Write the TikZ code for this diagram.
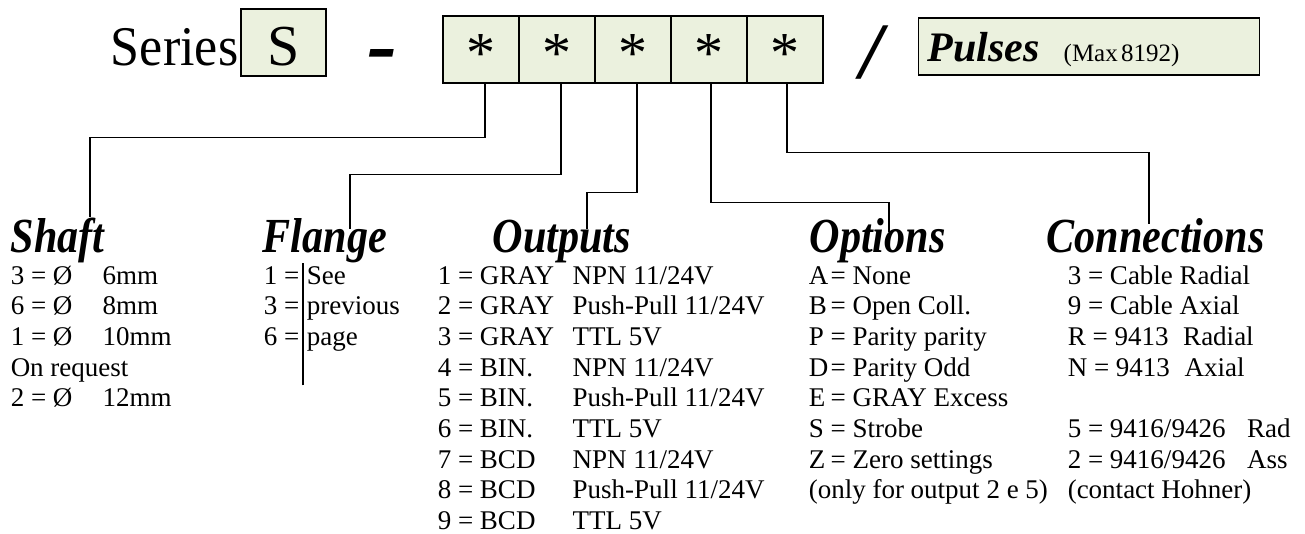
\documentclass[tikz,border=0pt]{standalone}
\usepackage{fontspec}
\setmainfont{Liberation Serif}
\usepackage{graphicx}
\usepackage{tikz}
\usetikzlibrary{positioning}
\definecolor{boxgreen}{HTML}{EBF1DE}
\setlength{\arrayrulewidth}{1.5pt}
\newcommand{\bigfont}[1]{\fontsize{#1}{#1}\selectfont}
\newcommand{\narrow}[1]{\scalebox{0.86}[1]{#1}}

\begin{document}
\begin{tikzpicture}[x=1pt,y=-1pt,line width=1.5pt,
  box node/.style={rectangle,draw,fill=boxgreen,line width=1.3pt,inner sep=0pt},
  star node/.style={box node,anchor=base,minimum width=76pt,text height=57pt,text depth=10pt,font=\bigfont{58}},
  head node/.style={anchor=base west,inner sep=0pt,font=\bigfont{49}\bfseries\itshape},
  list node/.style={anchor=base west,inner sep=0pt,font=\fontsize{27}{30.7}\selectfont}]

  \useasboundingbox (0,0) rectangle (1305,534);

  % code line
  \node[anchor=base east,inner sep=0pt,font=\bigfont{56}] (series) at (239,66) {\scalebox{0.93}[1]{Series}};
  \node[box node,anchor=base,minimum width=85pt,text height=57pt,text depth=10pt,font=\bigfont{58}] (s) at (283.5,66) {S};
  \node[anchor=base,inner sep=0pt,font=\bigfont{90}\bfseries\itshape] (dash) at (382,75) {-};
  \node[star node] (o1) at (481,73) {*};
  \node[star node] (o2) [right=-1.3pt of o1] {*};
  \node[star node] (o3) [right=-1.3pt of o2] {*};
  \node[star node] (o4) [right=-1.3pt of o3] {*};
  \node[star node] (o5) [right=-1.3pt of o4] {*};
  \node[anchor=base,inner sep=0pt,font=\bigfont{80}\bfseries\itshape] (slash) at (872,79) {/};
  \node[box node,anchor=base west,inner xsep=9pt,text width=323pt,align=left,text height=44pt,text depth=13pt] (pulses) at (918,62)
    {{\bigfont{42}\bfseries\itshape Pulses}\hspace{24pt}{\bigfont{25}(Max 8192)}};

  % headings
  \node[head node] (shaft) at (10,253) {\narrow{Shaft}};
  \node[head node] (flange) at (262,253) {\narrow{Flange}};
  \node[head node] (outputs) at (492,253) {\narrow{Outputs}};
  \node[head node] (options) at (809,253) {\narrow{Options}};
  \node[head node] (conn) at (1046,253) {\narrow{Connections}};

  % lists
  \node[list node] (shaftlist) at (10,284) {\begin{tabular}[t]{@{}p{92pt}@{}l@{}}
    3 = Ø & 6mm\\
    6 = Ø & 8mm\\
    1 = Ø & 10mm\\
    \multicolumn{2}{@{}l@{}}{On request}\\
    2 = Ø & 12mm
  \end{tabular}};
  \node[list node] (flangelist) at (263,284) {\begin{tabular}[t]{@{}l@{\hspace{4pt}}|@{\hspace{3pt}}l@{}}
    1 = & See\\
    3 = & previous\\
    6 = & page\\
    &
  \end{tabular}};
  \node[list node] (outlist) at (437,284) {\begin{tabular}[t]{@{}p{135pt}@{}l@{}}
    1 = GRAY & NPN 11/24V\\
    2 = GRAY & Push-Pull 11/24V\\
    3 = GRAY & TTL 5V\\
    4 = BIN. & NPN 11/24V\\
    5 = BIN. & Push-Pull 11/24V\\
    6 = BIN. & TTL 5V\\
    7 = BCD & NPN 11/24V\\
    8 = BCD & Push-Pull 11/24V\\
    9 = BCD & TTL 5V
  \end{tabular}};
  \node[list node] (optlist) at (808,284) {\begin{tabular}[t]{@{}p{22pt}@{}l@{}}
    A & = None\\
    B & = Open Coll.\\
    P & = Parity parity\\
    D & = Parity Odd\\
    E & = GRAY Excess\\
    S & = Strobe\\
    Z & = Zero settings\\
    \multicolumn{2}{@{}l@{}}{(only for output 2 e 5)}
  \end{tabular}};
  \node[list node] (connlist) at (1067,284) {\begin{tabular}[t]{@{}l@{}}
    3 = Cable Radial\\
    9 = Cable Axial\\
    R = 9413\hspace{8pt} Radial\\
    N = 9413\hspace{8pt} Axial\\
    \\
    5 = 9416/9426\hspace{15pt} Rad\\
    2 = 9416/9426\hspace{15pt} Ass\\
    (contact Hohner)
  \end{tabular}};

  % connectors
  \coordinate (k1) at (90,217);
  \coordinate (k2) at (350,229);
  \coordinate (k3) at (587,229);
  \coordinate (k4) at (889,232);
  \coordinate (k5) at (1149,224);
  \draw ([xshift=4pt]o1.south) -- ++(0,54) -| (k1);
  \draw ([xshift=4pt]o2.south) -- ++(0,91) -| (k2);
  \draw ([xshift=4pt]o3.south) -- ++(0,109) -| (k3);
  \draw ([xshift=2pt]o4.south) -- ++(0,119) -| (k4);
  \draw ([xshift=2pt]o5.south) -- ++(0,69) -| (k5);
\end{tikzpicture}
\end{document}
